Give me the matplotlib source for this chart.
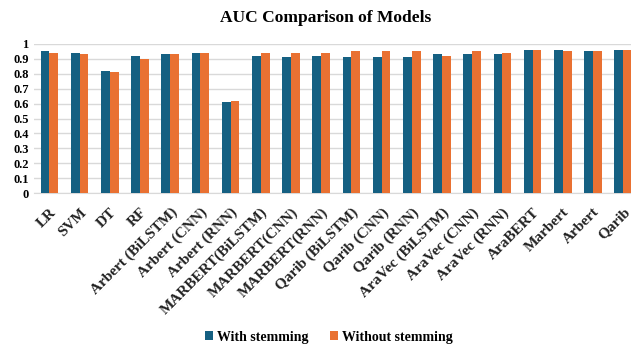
import numpy as np
import matplotlib
matplotlib.use('Agg')
import matplotlib.pyplot as plt

models = ['LR', 'SVM', 'DT', 'RF', 'Arbert (BiLSTM)', 'Arbert (CNN)', 'Arbert (RNN)',
          'MARBERT(BiLSTM)', 'MARBERT(CNN)', 'MARBERT(RNN)', 'Qarib (BiLSTM)',
          'Qarib (CNN)', 'Qarib (RNN)', 'AraVec (BiLSTM)', 'AraVec (CNN)',
          'AraVec (RNN)', 'AraBERT', 'Marbert', 'Arbert', 'Qarib']
with_stem = [0.95, 0.94, 0.82, 0.92, 0.93, 0.94, 0.61, 0.92, 0.91, 0.92,
             0.91, 0.91, 0.91, 0.93, 0.93, 0.93, 0.96, 0.96, 0.95, 0.96]
without_stem = [0.94, 0.93, 0.81, 0.90, 0.93, 0.94, 0.62, 0.94, 0.94, 0.94,
                0.95, 0.95, 0.95, 0.92, 0.95, 0.94, 0.96, 0.95, 0.95, 0.96]
yticks = [0, 0.1, 0.2, 0.3, 0.4, 0.5, 0.6, 0.7, 0.8, 0.9, 1]
ytick_labels = ['0', '0.1', '0.2', '0.3', '0.4', '0.5', '0.6', '0.7', '0.8', '0.9', '1']

plt.rcParams['font.family'] = ['Liberation Serif', 'DejaVu Serif']
plt.rcParams['font.weight'] = 'bold'

fig = plt.figure(figsize=(6.31, 3.47), dpi=100)
ax = fig.add_axes([34.3 / 631, 154 / 347, 604 / 631, 149 / 347])

x = np.arange(len(models))
w = 0.29
ax.bar(x - w / 2, with_stem, w, color='#156082', label='With stemming', zorder=3)
ax.bar(x + w / 2, without_stem, w, color='#E97132', label='Without stemming', zorder=3)

ax.set_xlim(-0.5, len(models) - 0.5)
ax.set_ylim(0, 1)
ax.set_yticks(yticks)
ax.set_yticklabels(ytick_labels, fontsize=9, fontweight='bold')
ax.set_xticks(x)
ax.set_xticklabels(models, rotation=45, ha='right', rotation_mode='anchor',
                   fontsize=11, fontweight='bold', color='#222222')
ax.tick_params(axis='x', length=0, pad=9)
ax.tick_params(axis='y', length=0, pad=4)
ax.yaxis.grid(True, color='#D9D9D9', linewidth=1, zorder=0)
for s in ['top', 'right', 'left']:
    ax.spines[s].set_visible(False)
ax.spines['bottom'].set_color('#D9D9D9')

fig.text(326 / 631, 1 - 18 / 347, 'AUC Comparison of Models', ha='center', va='center',
         fontsize=12.5, fontweight='bold')
fig.legend(loc='center', bbox_to_anchor=(329 / 631, 1 - 337 / 347), ncol=2, frameon=False,
           prop={'size': 10, 'weight': 'bold'}, handlelength=0.6, handleheight=0.6,
           columnspacing=1.5, handletextpad=0.3)

fig.savefig('out.png', dpi=100)
